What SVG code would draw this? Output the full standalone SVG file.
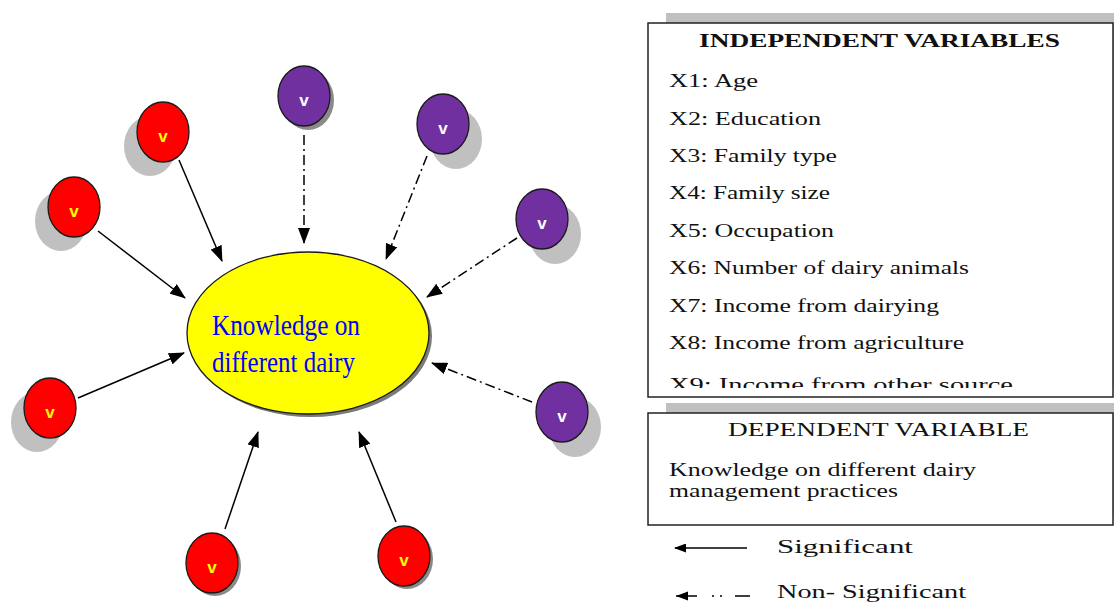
<svg xmlns="http://www.w3.org/2000/svg" width="1114" height="602" viewBox="0 0 1114 602">
<style>
.red{fill:#ff0000;stroke:#1a1a1a;stroke-width:1.3}
.pur{fill:#7030a0;stroke:#1a1a1a;stroke-width:1.3}
.shl{fill:#c0c0c0}
.shd{fill:#8a8a8a}
.vr{font-family:"Liberation Sans",Arial,sans-serif;font-weight:bold;font-size:17px;fill:#ffff00;text-anchor:middle}
.vp{font-family:"Liberation Sans",Arial,sans-serif;font-weight:bold;font-size:17px;fill:#ffffff;text-anchor:middle}
.sol{stroke:#000;stroke-width:1.5;fill:none}
.dd{stroke:#000;stroke-width:1.5;fill:none;stroke-dasharray:10 4 2 4}
.t{font-family:"Liberation Serif","Times New Roman",serif;font-size:18px;fill:#111}
.box{fill:#fff;stroke:#222;stroke-width:1.5}
</style>
<defs>
<marker id="ah" viewBox="0 0 16 12" refX="15" refY="6" markerWidth="16" markerHeight="12" orient="auto" markerUnits="userSpaceOnUse"><path d="M0,0 L16,6 L0,12 z" fill="#000"/></marker>
<marker id="ahs" viewBox="0 0 12 9" refX="11" refY="4.5" markerWidth="12" markerHeight="9" orient="auto" markerUnits="userSpaceOnUse"><path d="M0,0 L12,4.5 L0,9 z" fill="#000"/></marker>
<clipPath id="clipIV"><rect x="648" y="23" width="465" height="365"/></clipPath>
</defs>
<rect width="1114" height="602" fill="#fff"/>

<g id="center">
<ellipse cx="311" cy="336" rx="121" ry="81" fill="#7a7a7a"/>
<ellipse cx="308" cy="333" rx="121" ry="81" fill="#ffff00" stroke="#1a1a1a" stroke-width="1.3"/>
<text x="212" y="335" font-family="'Liberation Serif','Times New Roman',serif" font-size="29" fill="#0000ff" textLength="148" lengthAdjust="spacingAndGlyphs">Knowledge on</text>
<text x="212" y="372" font-family="'Liberation Serif','Times New Roman',serif" font-size="29" fill="#0000ff" textLength="143" lengthAdjust="spacingAndGlyphs">different dairy</text>
</g>

<g id="n1"><ellipse class="shl" cx="150" cy="146" rx="26" ry="30"/><ellipse class="red" cx="163" cy="132" rx="26" ry="30"/><text class="vr" x="163" y="142">v</text></g>
<g id="n2"><ellipse class="shl" cx="61" cy="221" rx="26" ry="30"/><ellipse class="red" cx="74" cy="207" rx="26" ry="30"/><text class="vr" x="74" y="217">v</text></g>
<g id="n3"><ellipse class="shd" cx="308" cy="100" rx="26" ry="30"/><ellipse class="pur" cx="304" cy="96" rx="26" ry="30"/><text class="vp" x="304" y="106">v</text></g>
<g id="n4"><ellipse class="shl" cx="456" cy="139" rx="26" ry="30"/><ellipse class="pur" cx="443" cy="124" rx="26" ry="30"/><text class="vp" x="443" y="134">v</text></g>
<g id="n5"><ellipse class="shl" cx="555" cy="234" rx="26" ry="30"/><ellipse class="pur" cx="542" cy="219" rx="26" ry="30"/><text class="vp" x="542" y="229">v</text></g>
<g id="n6"><ellipse class="shl" cx="575" cy="427" rx="26" ry="30"/><ellipse class="pur" cx="562" cy="412" rx="26" ry="30"/><text class="vp" x="562" y="422">v</text></g>
<g id="n7"><ellipse class="shl" cx="37" cy="422" rx="26" ry="30"/><ellipse class="red" cx="50" cy="408" rx="26" ry="30"/><text class="vr" x="50" y="418">v</text></g>
<g id="n8"><ellipse class="shd" cx="215" cy="566" rx="26" ry="30"/><ellipse class="red" cx="212" cy="563" rx="26" ry="30"/><text class="vr" x="212" y="573">v</text></g>
<g id="n9"><ellipse class="shd" cx="407" cy="559" rx="26" ry="30"/><ellipse class="red" cx="404" cy="556" rx="26" ry="30"/><text class="vr" x="404" y="566">v</text></g>

<g id="connectors">
<line class="sol" x1="179" y1="160" x2="222" y2="261" marker-end="url(#ah)"/>
<line class="sol" x1="98" y1="231" x2="185" y2="298" marker-end="url(#ah)"/>
<line class="dd" x1="304" y1="135" x2="304" y2="243" marker-end="url(#ah)"/>
<line class="dd" x1="427" y1="156" x2="386" y2="259" marker-end="url(#ah)"/>
<line class="dd" x1="517" y1="238" x2="427" y2="297" marker-end="url(#ah)"/>
<line class="dd" x1="532" y1="402" x2="432" y2="363" marker-end="url(#ah)"/>
<line class="sol" x1="78" y1="398" x2="184" y2="353" marker-end="url(#ah)"/>
<line class="sol" x1="225" y1="529" x2="258" y2="432" marker-end="url(#ah)"/>
<line class="sol" x1="396" y1="522" x2="359" y2="432" marker-end="url(#ah)"/>
</g>

<g id="independent">
<rect x="666" y="13" width="460" height="374" fill="#c0c0c0"/>
<rect class="box" x="648" y="23" width="465" height="374"/>
<text x="699" y="47" font-family="'Liberation Serif','Times New Roman',serif" font-size="18" font-weight="bold" fill="#111" textLength="361" lengthAdjust="spacingAndGlyphs">INDEPENDENT VARIABLES</text>
<g clip-path="url(#clipIV)">
<text class="t" x="669" y="87" textLength="89" lengthAdjust="spacingAndGlyphs">X1: Age</text>
<text class="t" x="669" y="125" textLength="152" lengthAdjust="spacingAndGlyphs">X2: Education</text>
<text class="t" x="669" y="162" textLength="168" lengthAdjust="spacingAndGlyphs">X3: Family type</text>
<text class="t" x="669" y="199" textLength="161" lengthAdjust="spacingAndGlyphs">X4: Family size</text>
<text class="t" x="669" y="237" textLength="165" lengthAdjust="spacingAndGlyphs">X5: Occupation</text>
<text class="t" x="669" y="274" textLength="300" lengthAdjust="spacingAndGlyphs">X6: Number of dairy animals</text>
<text class="t" x="669" y="312" textLength="270" lengthAdjust="spacingAndGlyphs">X7: Income from dairying</text>
<text class="t" x="669" y="349" textLength="295" lengthAdjust="spacingAndGlyphs">X8: Income from agriculture</text>
<text class="t" x="669" y="391" textLength="344" lengthAdjust="spacingAndGlyphs">X9: Income from other source</text>
</g>
</g>

<g id="dependent">
<rect x="666" y="403" width="460" height="112" fill="#c0c0c0"/>
<rect class="box" x="648" y="413" width="465" height="112"/>
<text class="t" x="728" y="436" textLength="301" lengthAdjust="spacingAndGlyphs">DEPENDENT VARIABLE</text>
<text class="t" x="669" y="476" font-size="17" textLength="307" lengthAdjust="spacingAndGlyphs">Knowledge on different dairy</text>
<text class="t" x="669" y="497" font-size="17" textLength="229" lengthAdjust="spacingAndGlyphs">management practices</text>
</g>

<g id="legend">
<line class="sol" x1="747" y1="548" x2="675" y2="548" marker-end="url(#ahs)"/>
<text class="t" x="777" y="553" font-size="21" textLength="136" lengthAdjust="spacingAndGlyphs">Significant</text>
<path d="M750,596 H735 M722,596 H720 M714,596 H712 M697,596 H676" stroke="#000" stroke-width="1.5" fill="none"/>
<path d="M676,596 L688,591.5 L688,600.5 z" fill="#000"/>
<text class="t" x="777" y="598" font-size="20" textLength="189" lengthAdjust="spacingAndGlyphs">Non- Significant</text>
</g>
</svg>
